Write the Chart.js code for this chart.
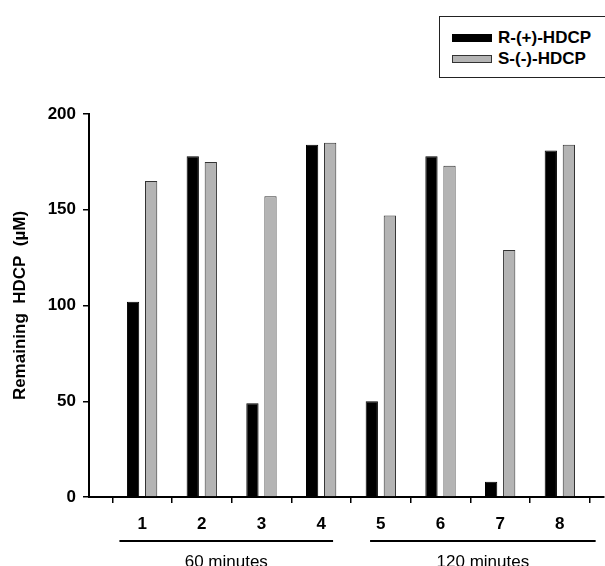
<!DOCTYPE html>
<html><head><meta charset="utf-8">
<script src="https://cdn.jsdelivr.net/npm/chart.js@4/dist/chart.umd.min.js"></script>
<style>
html,body{margin:0;padding:0;background:#fff;overflow:hidden;}
#wrap{position:relative;width:605px;height:566px;overflow:hidden;}
canvas{position:absolute;left:0;top:0;}
#legend{position:absolute;left:439px;top:16px;width:180px;height:62px;border:1px solid #222;box-sizing:border-box;font:bold 17px "Liberation Sans",Arial,sans-serif;color:#000;background:#fff;}
#legend .sw{position:absolute;width:40px;height:8px;box-sizing:border-box;}
#legend .tx{position:absolute;line-height:20px;white-space:nowrap;}
</style></head>
<body><div id="wrap"><canvas id="c" width="605" height="566"></canvas><div id="legend"></div></div>
<script>
// ---- data ----
const categories = [1, 2, 3, 4, 5, 6, 7, 8];
const rValues = [102, 178, 49, 184, 50, 178, 8, 181];
const sValues = [165, 175, 157, 185, 147, 173, 129, 184];
const seriesNames = ['R-(+)-HDCP', 'S-(-)-HDCP'];
const yTickValues = [0, 50, 100, 150, 200];
const groupLabels = ['60 minutes', '120 minutes'];
const groupMembers = [[1, 4], [5, 8]];
const yTitle = 'Remaining  HDCP  (µM)';

// ---- styles ----
const FONT = '"Liberation Sans", Arial, sans-serif';
const colors = ['#000000', '#b4b4b4'];
const borders = ['#000000', '#333333'];
const groupLinePad = [[0.38, 0.2], [0.18, 0.6]]; // extension of bracket lines in category units

// legend (HTML, real text)
const legendEl = document.getElementById('legend');
const legendRows = [{sw: 17, tx: 11}, {sw: 38, tx: 32}];
seriesNames.forEach((name, i) => {
  const sw = document.createElement('div');
  sw.className = 'sw';
  sw.style.left = '12px';
  sw.style.top = legendRows[i].sw + 'px';
  sw.style.background = colors[i];
  sw.style.border = '1px solid ' + borders[i];
  legendEl.appendChild(sw);
  const tx = document.createElement('div');
  tx.className = 'tx';
  tx.style.left = '58px';
  tx.style.top = legendRows[i].tx + 'px';
  tx.textContent = name;
  legendEl.appendChild(tx);
});

const groupPlugin = {
  id: 'groups',
  afterDraw(chart) {
    const ctx = chart.ctx;
    const xs = chart.scales.x;
    ctx.save();
    ctx.strokeStyle = '#000';
    ctx.lineWidth = 2;
    ctx.fillStyle = '#000';
    ctx.font = '17px ' + FONT;
    ctx.textAlign = 'center';
    ctx.textBaseline = 'alphabetic';
    groupMembers.forEach((g, i) => {
      const x1 = xs.getPixelForValue(g[0] - groupLinePad[i][0]);
      const x2 = xs.getPixelForValue(g[1] + groupLinePad[i][1]);
      const y = chart.chartArea.bottom + 44;
      ctx.beginPath();
      ctx.moveTo(x1, y);
      ctx.lineTo(x2, y);
      ctx.stroke();
      ctx.fillText(groupLabels[i], (x1 + x2) / 2, y + 26);
    });
    ctx.restore();
  }
};

const datasets = [rValues, sValues].map((vals, i) => ({
  label: seriesNames[i],
  data: categories.map((c, j) => ({x: c, y: vals[j]})),
  backgroundColor: colors[i],
  borderColor: borders[i],
  borderWidth: 1,
  categoryPercentage: 0.605,
  barPercentage: 0.68
}));

new Chart(document.getElementById('c'), {
  type: 'bar',
  data: {datasets},
  plugins: [groupPlugin],
  options: {
    responsive: false,
    devicePixelRatio: 1,
    animation: false,
    layout: {padding: {top: 114, right: 1, left: 0, bottom: 0}},
    plugins: {legend: {display: false}, tooltip: {enabled: false}},
    scales: {
      x: {
        type: 'linear',
        min: 0.11,
        max: 8.74,
        offset: false,
        afterBuildTicks: axis => { axis.ticks = categories.map(v => ({value: v})); },
        afterFit: s => { s.height = 69; },
        grid: {display: true, drawOnChartArea: false, drawTicks: true, tickLength: 6, color: '#000', lineWidth: 1.5},
        border: {display: true, color: '#000', width: 2},
        ticks: {font: {family: FONT, size: 17, weight: 'bold'}, color: '#000', padding: 11, autoSkip: false, maxRotation: 0,
                callback: v => String(v)}
      },
      y: {
        min: 0,
        max: 200,
        afterBuildTicks: axis => { axis.ticks = yTickValues.map(v => ({value: v})); },
        afterFit: s => { s.width = 89; },
        grid: {display: true, drawOnChartArea: false, drawTicks: true, tickLength: 6, color: '#000', lineWidth: 1.5},
        border: {display: true, color: '#000', width: 2},
        ticks: {font: {family: FONT, size: 17, weight: 'bold'}, color: '#000', padding: 7},
        title: {display: true, text: yTitle, font: {family: FONT, size: 17, weight: 'bold'}, color: '#000', padding: {top: 10, bottom: 0}}
      }
    }
  }
});
</script>
</body></html>
